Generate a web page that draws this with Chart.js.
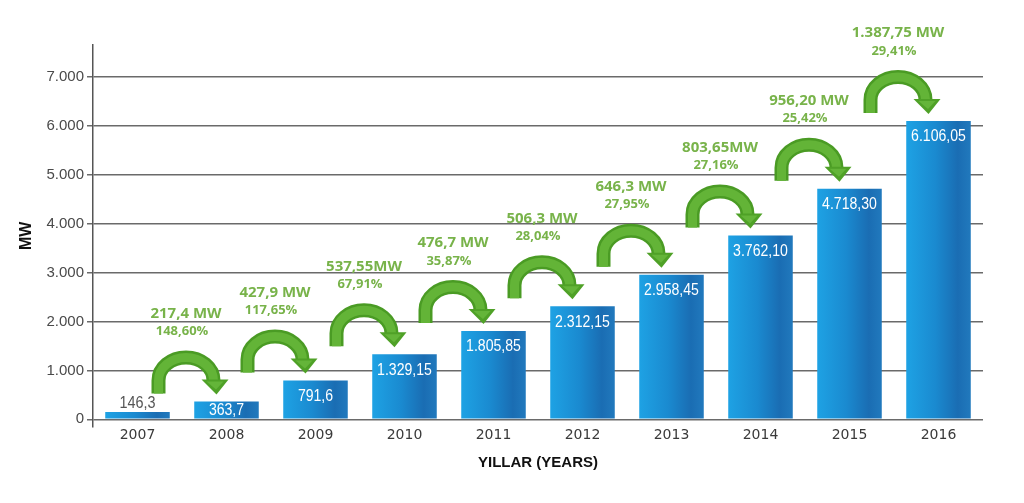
<!DOCTYPE html>
<html>
<head>
<meta charset="utf-8">
<script src="https://cdn.jsdelivr.net/npm/chart.js@4/dist/chart.umd.min.js"></script>
<style>
html,body{margin:0;padding:0;background:#ffffff;}
#wrap{width:1024px;height:503px;position:relative;}
</style>
</head>
<body>
<div id="wrap"><canvas id="c"></canvas></div>
<script>
// ---- data ----
const years = ['2007','2008','2009','2010','2011','2012','2013','2014','2015','2016'];
const capacityMW = [146.3, 363.7, 791.6, 1329.15, 1805.85, 2312.15, 2958.45, 3762.10, 4718.30, 6106.05];
const valueLabels = ['146,3','363,7','791,6','1.329,15','1.805,85','2.312,15','2.958,45','3.762,10','4.718,30','6.106,05'];
const increaseLabels = ['217,4 MW','427,9 MW','537,55MW','476,7 MW','506,3 MW','646,3 MW','803,65MW','956,20 MW','1.387,75 MW'];
const increasePctLabels = ['148,60%','117,65%','67,91%','35,87%','28,04%','27,95%','27,16%','25,42%','29,41%'];
const yTickValues = [0, 1000, 2000, 3000, 4000, 5000, 6000, 7000];
const yTickLabels = ['0','1.000','2.000','3.000','4.000','5.000','6.000','7.000'];

// ---- style ----
const BAR_PCT = 0.725;
const GREEN_TEXT = '#78b34a';

function barGradient(context) {
  const chart = context.chart;
  const xs = chart.scales && chart.scales.x;
  if (!xs || context.dataIndex == null || !xs.width) return '#1a86cc';
  const cx = xs.getPixelForValue(context.dataIndex);
  const half = xs.width / years.length * BAR_PCT / 2;
  const g = chart.ctx.createLinearGradient(cx - half, 0, cx + half, 0);
  g.addColorStop(0, '#1ea2e4');
  g.addColorStop(0.45, '#1a8ad0');
  g.addColorStop(0.8, '#1a6db3');
  g.addColorStop(1, '#2179bd');
  return g;
}

function drawArrow(ctx, L, R, B) {
  const rx = (R - L) / 2, cx = (L + R) / 2, cy = B - 13, ry = 23;
  ctx.lineCap = 'butt';
  ctx.lineJoin = 'round';
  ctx.beginPath();
  ctx.moveTo(L, B);
  ctx.lineTo(L, cy);
  ctx.ellipse(cx, cy, rx, ry, 0, Math.PI, 2 * Math.PI);
  ctx.lineTo(R, cy + 1);
  ctx.strokeStyle = '#4a9b24';
  ctx.lineWidth = 14;
  ctx.stroke();
  ctx.strokeStyle = '#63b437';
  ctx.lineWidth = 9;
  ctx.stroke();
  ctx.beginPath();
  ctx.moveTo(R - 12, cy - 1);
  ctx.lineTo(R + 15, cy - 1);
  ctx.lineTo(R + 3, B + 1);
  ctx.closePath();
  ctx.fillStyle = '#4fa127';
  ctx.fill();
  ctx.beginPath();
  ctx.moveTo(R - 7, cy + 1);
  ctx.lineTo(R + 10, cy + 1);
  ctx.lineTo(R + 2.5, B - 4);
  ctx.closePath();
  ctx.fillStyle = '#64b539';
  ctx.fill();
}

function condensedText(ctx, text, x, y, sx) {
  ctx.save();
  ctx.translate(x, y);
  ctx.scale(sx, 1);
  ctx.fillText(text, 0, 0);
  ctx.restore();
}

const annotPlugin = {
  id: 'annot',
  afterDatasetsDraw(chart) {
    const ctx = chart.ctx;
    const meta = chart.getDatasetMeta(0);
    ctx.save();
    ctx.textAlign = 'center';
    ctx.textBaseline = 'middle';
    meta.data.forEach((bar, i) => {
      const h = bar.base - bar.y;
      ctx.font = '16px "Liberation Sans", Arial, sans-serif';
      if (h < 12) {
        ctx.fillStyle = '#555555';
        condensedText(ctx, valueLabels[i], bar.x, bar.y - 9, 0.9);
      } else {
        ctx.fillStyle = '#ffffff';
        condensedText(ctx, valueLabels[i], bar.x, Math.min(bar.y + 16, (bar.y + bar.base) / 2 + 1), 0.88);
      }
    });
    for (let i = 0; i < increaseLabels.length; i++) {
      const a = meta.data[i], b = meta.data[i + 1];
      const L = a.x + 21, R = b.x - 13;
      const B = b.y - 8;
      drawArrow(ctx, L, R, B);
      const cx = (L + R) / 2;
      ctx.fillStyle = GREEN_TEXT;
      ctx.font = 'bold 15px "Open Sans", sans-serif';
      ctx.fillText(increaseLabels[i], cx, B - 80);
      ctx.font = 'bold 13px "Open Sans", sans-serif';
      ctx.fillText(increasePctLabels[i], cx - 4, B - 62);
    }
    ctx.restore();
  }
};

new Chart(document.getElementById('c'), {
  type: 'bar',
  data: {
    labels: years,
    datasets: [{
      data: capacityMW,
      backgroundColor: barGradient,
      borderWidth: 0,
      barPercentage: BAR_PCT,
      categoryPercentage: 1
    }]
  },
  options: {
    responsive: true,
    maintainAspectRatio: false,
    animation: false,
    layout: { padding: { top: 45, right: 41, left: 0, bottom: 0 } },
    plugins: { legend: { display: false }, tooltip: { enabled: false } },
    scales: {
      x: {
        grid: { display: false, drawTicks: false },
        border: { display: false },
        ticks: { padding: 0, color: '#3a3a3a', font: { family: 'DejaVu Sans', size: 14 } },
        afterFit: s => { s.height = 76.4; },
        title: {
          display: true, text: 'YILLAR (YEARS)', color: '#111111',
          font: { family: 'Liberation Sans', weight: 'bold', size: 15 },
          padding: { top: 0, bottom: 31 }
        }
      },
      y: {
        min: -150,
        max: 7660,
        afterBuildTicks: s => { s.ticks = yTickValues.map(v => ({ value: v })); },
        afterFit: s => { s.width = 93; },
        grid: { color: '#6a6a6a', lineWidth: 1.5, tickLength: 6, drawTicks: true },
        border: { display: true, color: '#555555', width: 1.5 },
        ticks: {
          padding: 3, color: '#4a4a4a',
          font: { family: 'Liberation Sans', size: 15 },
          callback: (value) => {
            const k = yTickValues.indexOf(value);
            return k >= 0 ? yTickLabels[k] : '';
          }
        },
        title: {
          display: true, text: 'MW', color: '#111111',
          font: { family: 'Liberation Sans', weight: 'bold', size: 16 },
          padding: { top: 17, bottom: 0 }
        }
      }
    }
  },
  plugins: [annotPlugin]
});
</script>
</body>
</html>
